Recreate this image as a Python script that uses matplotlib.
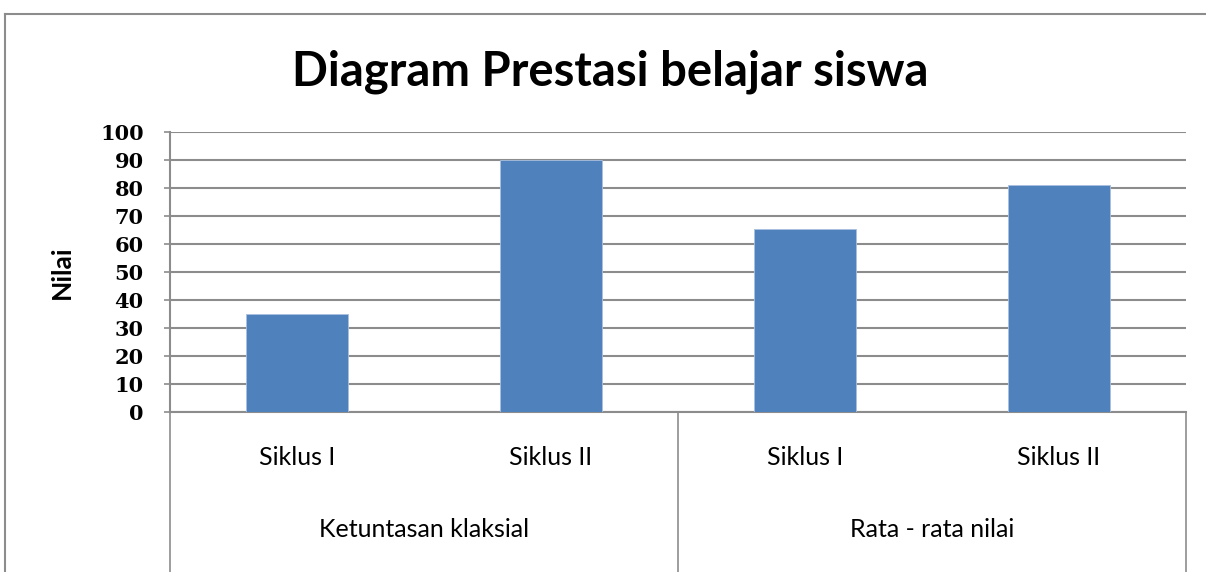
import numpy as np
import matplotlib
matplotlib.use("Agg")
import matplotlib.pyplot as plt
from matplotlib.lines import Line2D

plt.rcParams['font.family'] = ['Lato', 'DejaVu Sans']

title = "Diagram Prestasi belajar siswa"
y_label = "Nilai"
groups = ["Ketuntasan klaksial", "Rata - rata nilai"]
sub_labels = ["Siklus I", "Siklus II", "Siklus I", "Siklus II"]
values = [35, 90, 65.5, 81]
y_ticks = list(range(0, 101, 10))

bar_color = "#4F81BD"
grid_color = "#8C8C8C"

fig = plt.figure(figsize=(12.06, 5.72), dpi=100)
ax = fig.add_axes([170 / 1206, 1 - 412 / 572, 1016 / 1206, 280 / 572])

x = np.arange(len(values))
ax.bar(x, values, width=0.4, color=bar_color, edgecolor="#A9C0E0", linewidth=0.6, zorder=3)

ax.set_xlim(-0.5, len(values) - 0.5)
ax.set_ylim(0, 100)
ax.set_yticks(y_ticks)
ax.set_yticklabels([str(v) for v in y_ticks], fontsize=15, fontweight="bold",
                   family=["DejaVu Serif"])
ax.set_xticks([])
ax.yaxis.grid(True, color=grid_color, linewidth=1.5, zorder=0)
ax.tick_params(axis="y", length=4, width=1.2, color=grid_color, pad=15)

for side in ["top", "right"]:
    ax.spines[side].set_visible(False)
for side in ["left", "bottom"]:
    ax.spines[side].set_color(grid_color)
    ax.spines[side].set_linewidth(1.5)

ax.set_ylabel(y_label, fontsize=19, fontweight="bold")
ax.yaxis.set_label_coords(-0.095, 0.5)

# multi-level category axis
trans = ax.get_xaxis_transform()
n_groups = len(groups)
per_group = len(values) // n_groups
for i in range(n_groups + 1):
    xs = -0.5 + i * per_group
    ax.plot([xs, xs], [0, -0.6], transform=trans, color=grid_color, lw=1.2, clip_on=False)
for i, lab in enumerate(sub_labels):
    ax.text(x[i], -0.161, lab, transform=trans, ha="center", va="center", fontsize=18)
for g, lab in enumerate(groups):
    center = g * per_group + (per_group - 1) / 2
    ax.text(center, -0.421, lab, transform=trans, ha="center", va="center", fontsize=18)

fig.text(610 / 1206, 1 - 72 / 572, title, ha="center", va="center", fontsize=34, fontweight="bold")

# chart area border
fig.add_artist(Line2D([5 / 1206, 5 / 1206], [0, 1 - 14 / 572], color="#8C8C8C", lw=1.5))
fig.add_artist(Line2D([5 / 1206, 1], [1 - 14 / 572, 1 - 14 / 572], color="#8C8C8C", lw=1.5))

fig.savefig("out.png", dpi=100)
